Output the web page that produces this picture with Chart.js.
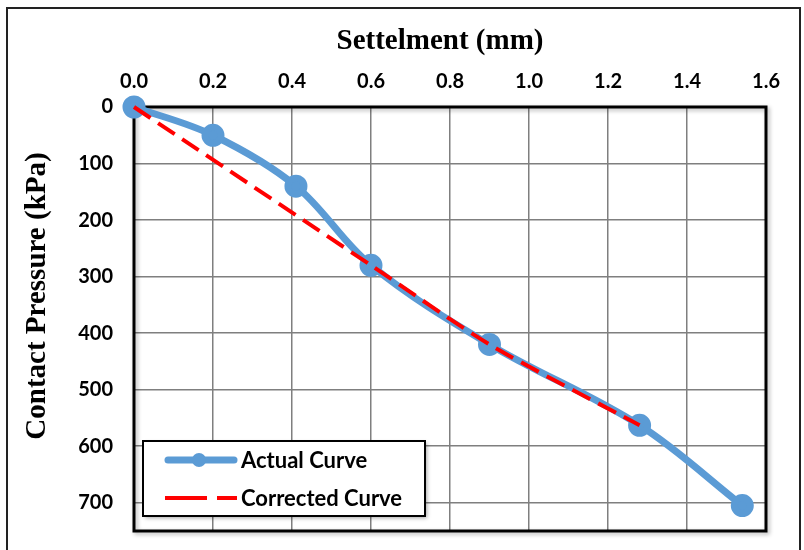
<!DOCTYPE html>
<html>
<head>
<meta charset="utf-8">
<script src="https://cdn.jsdelivr.net/npm/chart.js@4/dist/chart.umd.min.js"></script>
<style>
html,body{margin:0;padding:0;background:#fff;}
#wrap{width:804px;height:550px;position:relative;}
</style>
</head>
<body>
<div id="wrap"><canvas id="c" width="804" height="550"></canvas></div>
<script>
const settlementActual = [0, 0.2, 0.41, 0.6, 0.9, 1.28, 1.54];
const pressureActual = [0, 50, 140, 280, 420, 563, 705];
const settlementCorrected = [0, 0.6, 0.9, 1.28];
const pressureCorrected = [0, 280, 420, 563];
const seriesNames = ['Actual Curve', 'Corrected Curve'];
const xTitle = 'Settelment (mm)';
const yTitle = 'Contact Pressure (kPa)';

const toXY = (xs, ys) => xs.map((x, i) => ({x: x, y: ys[i]}));

const tickFont = {family: 'Lato', size: 20, weight: 'bold'};
const titleFontCss = 'bold 29px "Liberation Serif"';

const frame = {
  id: 'frame',
  beforeDraw(chart) {
    const ctx = chart.ctx;
    ctx.save();
    ctx.fillStyle = '#fff';
    ctx.fillRect(0, 0, chart.width, chart.height);
    ctx.strokeStyle = '#222';
    ctx.lineWidth = 2;
    ctx.strokeRect(7, 8, 793, 560);
    // axis titles
    ctx.fillStyle = '#000';
    ctx.font = titleFontCss;
    ctx.textAlign = 'center';
    ctx.textBaseline = 'middle';
    ctx.fillText(xTitle, 440, 42);
    ctx.translate(38, 296);
    ctx.rotate(-Math.PI / 2);
    ctx.fillText(yTitle, 0, 0);
    ctx.restore();
  },
  beforeDatasetsDraw(chart) {
    const ctx = chart.ctx, a = chart.chartArea;
    ctx.save();
    ctx.shadowColor = 'rgba(0,0,0,0.3)';
    ctx.shadowBlur = 4; ctx.shadowOffsetX = 2; ctx.shadowOffsetY = 2;
    ctx.strokeStyle = '#000';
    ctx.lineWidth = 3;
    ctx.strokeRect(a.left, a.top, a.right - a.left, a.bottom - a.top);
    ctx.restore();
  },
  afterDraw(chart) {
    const ctx = chart.ctx;
    const bx = 143, by = 441, bw = 282, bh = 75;
    ctx.save();
    ctx.shadowColor = 'rgba(0,0,0,0.35)';
    ctx.shadowBlur = 4; ctx.shadowOffsetX = 2; ctx.shadowOffsetY = 2;
    ctx.fillStyle = '#fff';
    ctx.fillRect(bx, by, bw, bh);
    ctx.shadowColor = 'transparent';
    ctx.strokeStyle = '#000';
    ctx.lineWidth = 2;
    ctx.strokeRect(bx, by, bw, bh);
    const ds = chart.data.datasets;
    const y1 = 460, y2 = 498;
    ctx.strokeStyle = ds[0].borderColor;
    ctx.lineWidth = ds[0].borderWidth;
    ctx.lineCap = 'round';
    ctx.beginPath(); ctx.moveTo(168, y1); ctx.lineTo(234, y1); ctx.stroke();
    ctx.fillStyle = ds[0].pointBackgroundColor;
    ctx.beginPath(); ctx.arc(199, y1, 7, 0, Math.PI * 2); ctx.fill();
    ctx.lineCap = 'butt';
    ctx.strokeStyle = ds[1].borderColor;
    ctx.lineWidth = ds[1].borderWidth;
    ctx.setLineDash([42, 10]);
    ctx.beginPath(); ctx.moveTo(165, y2); ctx.lineTo(237, y2); ctx.stroke();
    ctx.setLineDash([]);
    ctx.fillStyle = '#000';
    ctx.font = 'bold 22px Lato';
    ctx.textBaseline = 'middle';
    ctx.textAlign = 'left';
    ctx.fillText(ds[0].label, 241, y1 + 1);
    ctx.fillText(ds[1].label, 241, y2 + 1);
    ctx.restore();
  }
};

new Chart(document.getElementById('c'), {
  type: 'line',
  data: {
    datasets: [
      {
        label: seriesNames[0],
        data: toXY(settlementActual, pressureActual),
        borderColor: '#5b9bd5',
        backgroundColor: '#5b9bd5',
        pointBackgroundColor: '#5b9bd5',
        pointBorderColor: '#5b9bd5',
        borderWidth: 7,
        pointRadius: 8,
        pointHoverRadius: 8,
        tension: 0.35,
        clip: false,
        order: 2
      },
      {
        label: seriesNames[1],
        data: toXY(settlementCorrected, pressureCorrected),
        borderColor: '#ff0000',
        backgroundColor: '#ff0000',
        borderWidth: 4,
        borderDash: [20, 9],
        pointRadius: 0,
        tension: 0.25,
        clip: false,
        order: 1
      }
    ]
  },
  options: {
    responsive: false,
    animation: false,
    layout: {padding: {left: 14, top: 7, right: 38, bottom: 19}},
    plugins: {legend: {display: false}, tooltip: {enabled: false}},
    scales: {
      x: {
        type: 'linear',
        position: 'top',
        min: 0, max: 1.6,
        ticks: {stepSize: 0.2, color: '#000', font: tickFont, padding: 13,
          callback: v => v.toFixed(1)},
        grid: {color: '#7f7f7f', lineWidth: 1.5, drawTicks: false},
        border: {display: false},
        title: {display: false, text: xTitle},
        afterFit(s) { s.height = 100; s.paddingLeft = 0; s.paddingRight = 0; }
      },
      y: {
        type: 'linear',
        reverse: true,
        min: 0, max: 750,
        afterBuildTicks(s) { s.ticks = s.ticks.filter(t => t.value % 100 === 0); },
        ticks: {stepSize: 100, color: '#000', font: tickFont, padding: 21},
        grid: {color: '#7f7f7f', lineWidth: 1.5, drawTicks: false},
        border: {display: false},
        title: {display: false, text: yTitle},
        afterFit(s) { s.width = 120; s.paddingTop = 0; s.paddingBottom = 0; }
      }
    }
  },
  plugins: [frame]
});
</script>
</body>
</html>
